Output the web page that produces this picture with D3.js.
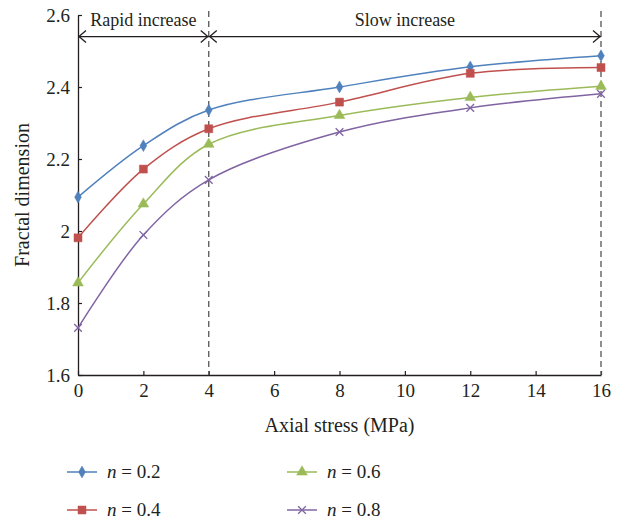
<!DOCTYPE html>
<html>
<head>
<meta charset="utf-8">
<script src="https://cdn.jsdelivr.net/npm/d3@7"></script>
<style>
    body { margin: 0; background: #fff; }
    text { font-family: "Liberation Serif", "DejaVu Serif", serif; fill: #231f20; }
</style>
</head>
<body>
<div id="chart"></div>
<script>
// Data
const stress = [0, 2, 4, 8, 12, 16];
const n02 = [2.094, 2.237, 2.336, 2.400, 2.456, 2.487];
const n04 = [1.981, 2.172, 2.284, 2.358, 2.438, 2.454];
const n06 = [1.856, 2.075, 2.241, 2.321, 2.371, 2.402];
const n08 = [1.731, 1.989, 2.142, 2.275, 2.342, 2.381];
const seriesNames = ["n = 0.2", "n = 0.4", "n = 0.6", "n = 0.8"];
const xTicks = [0, 2, 4, 6, 8, 10, 12, 14, 16];
const yTicks = [1.6, 1.8, 2.0, 2.2, 2.4, 2.6];
const stageBounds = [0, 4, 16];
const stageLabels = ["Rapid increase", "Slow increase"];

const series = [
    { name: seriesNames[0], values: n02, color: "#4f81bd", symbol: "diamond" },
    { name: seriesNames[1], values: n04, color: "#c0504d", symbol: "square" },
    { name: seriesNames[2], values: n06, color: "#9bbb59", symbol: "triangle" },
    { name: seriesNames[3], values: n08, color: "#8064a2", symbol: "cross" }
];

const width = 619;
const height = 523;
const margin = { top: 15, right: 18, bottom: 148, left: 78 };

const svg = d3.select("#chart")
    .append("svg")
    .attr("width", width)
    .attr("height", height);

const x = d3.scaleLinear().domain([0, 16]).range([margin.left, width - margin.right]);
const y = d3.scaleLinear().domain([1.6, 2.6]).range([height - margin.bottom, margin.top]);

// Axes (ticks point inward)
const xAxis = svg.append("g")
    .attr("transform", `translate(0, ${y(1.6)})`)
    .call(d3.axisBottom(x).tickValues(xTicks).tickSizeInner(-4).tickSizeOuter(0).tickPadding(9));
const yAxis = svg.append("g")
    .attr("transform", `translate(${x(0)}, 0)`)
    .call(d3.axisLeft(y).tickValues(yTicks).tickSizeInner(-4).tickSizeOuter(0).tickPadding(8)
        .tickFormat(d => d === 2 ? "2" : d3.format(".1f")(d)));

[xAxis, yAxis].forEach(ax => {
    ax.attr("font-family", null).attr("font-size", null);
    ax.select(".domain").attr("stroke", "#231f20").attr("stroke-width", 1.3);
    ax.selectAll(".tick line").attr("stroke", "#231f20").attr("stroke-width", 1.2);
    ax.selectAll(".tick text").style("font-size", "19px").attr("fill", "#231f20");
});

// Axis titles
svg.append("text")
    .attr("x", (x(0) + x(16)) / 2)
    .attr("y", 432)
    .attr("text-anchor", "middle")
    .style("font-size", "20px")
    .text("Axial stress (MPa)");

svg.append("text")
    .attr("transform", `translate(29, ${y(2.1)}) rotate(-90)`)
    .attr("text-anchor", "middle")
    .style("font-size", "20px")
    .text("Fractal dimension");

// Stage dividers
svg.selectAll(".divider")
    .data(stageBounds.slice(1))
    .enter()
    .append("line")
    .attr("x1", d => x(d))
    .attr("x2", d => x(d))
    .attr("y1", 11)
    .attr("y2", y(1.6))
    .attr("stroke", "#555")
    .attr("stroke-width", 1.3)
    .attr("stroke-dasharray", "6,4");

// Double arrows for each stage
const arrowY = y(2.54);
const stages = stageLabels.map((label, i) => ({ label, from: stageBounds[i], to: stageBounds[i + 1] }));

const g = svg.append("g").attr("stroke", "#231f20").attr("stroke-width", 1.3).attr("fill", "none");
stages.forEach(s => {
    const x1 = x(s.from), x2 = x(s.to);
    g.append("line").attr("x1", x1).attr("x2", x2).attr("y1", arrowY).attr("y2", arrowY);
    g.append("path").attr("d", `M${x1 + 8},${arrowY - 6}L${x1 + 1},${arrowY}L${x1 + 8},${arrowY + 6}`);
    g.append("path").attr("d", `M${x2 - 8},${arrowY - 6}L${x2 - 1},${arrowY}L${x2 - 8},${arrowY + 6}`);
    svg.append("text")
        .attr("x", (x1 + x2) / 2)
        .attr("y", 26)
        .attr("text-anchor", "middle")
        .style("font-size", "18px")
        .text(s.label);
});

// Lines
const line = d3.line()
    .x((d, i) => x(stress[i]))
    .y(d => y(d))
    .curve(d3.curveCatmullRom.alpha(0.5));

const symbolPath = (type) => {
    if (type === "diamond") return d3.symbol(d3.symbolDiamond, 40)();
    if (type === "square") return d3.symbol(d3.symbolSquare, 64)();
    if (type === "triangle") return d3.symbol(d3.symbolTriangle, 50)();
    return d3.symbol(d3.symbolX, 40)();
};

const drawMarker = (sel, s) => {
    sel.append("path")
        .attr("d", symbolPath(s.symbol))
        .attr("fill", s.symbol === "cross" ? "none" : s.color)
        .attr("stroke", s.color)
        .attr("stroke-width", s.symbol === "cross" ? 1.3 : 0.5);
};

series.forEach(s => {
    svg.append("path")
        .datum(s.values)
        .attr("d", line)
        .attr("fill", "none")
        .attr("stroke", s.color)
        .attr("stroke-width", 1.5);

    svg.selectAll(null)
        .data(s.values)
        .enter()
        .append("g")
        .attr("transform", (d, i) => `translate(${x(stress[i])}, ${y(d)})`)
        .each(function () { drawMarker(d3.select(this), s); });
});

// Legend
const legend = svg.selectAll(".legend-item")
    .data(series)
    .enter()
    .append("g")
    .attr("class", "legend-item")
    .attr("transform", (d, i) => `translate(${i < 2 ? 67 : 287}, ${i % 2 === 0 ? 472 : 510})`);

legend.append("line")
    .attr("x1", 0).attr("x2", 30)
    .attr("stroke", d => d.color)
    .attr("stroke-width", 1.5);

legend.append("g")
    .attr("transform", "translate(15, 0)")
    .each(function (d) { drawMarker(d3.select(this), d); });

const lt = legend.append("text")
    .attr("x", 40)
    .attr("y", 6)
    .style("font-size", "19px");
lt.append("tspan").attr("font-style", "italic").text(d => d.name.split(" ")[0]);
lt.append("tspan").text(d => " " + d.name.split(" ").slice(1).join(" "));
</script>
</body>
</html>
